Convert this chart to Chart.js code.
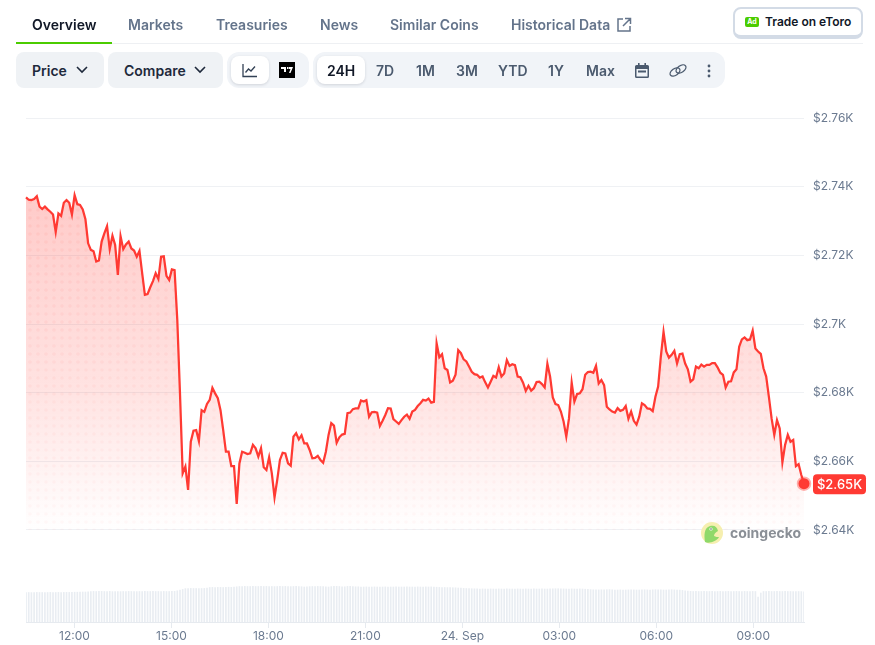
<!DOCTYPE html>
<html>
<head>
<meta charset="utf-8">
<script src="https://cdn.jsdelivr.net/npm/chart.js@4/dist/chart.umd.min.js"></script>
<style>
  html, body { margin: 0; background: #fff; }
  body { width: 875px; height: 645px; position: relative; overflow: hidden; font-family: Inter, sans-serif; }
  canvas { position: absolute; left: 0; top: 0; }
  .t { position: absolute; white-space: nowrap; line-height: 20px; font-size: 14px; font-weight: 600; color: #64748b; }
  .box { position: absolute; border-radius: 8px; background: #eff2f5; }
  .white { position: absolute; background: #fff; border-radius: 8px; box-shadow: 0 1px 3px rgba(16,24,40,.14); }
  .dark { color: #111827; }
  .mid { color: #4b5a6e; }
  svg { position: absolute; }
</style>
</head>
<body>
<canvas id="grafica" width="875" height="645"></canvas>

<!-- tabs -->
<div class="t dark" style="left:32px;top:15px">Overview</div>
<div class="t" style="left:128px;top:15px">Markets</div>
<div class="t" style="left:216px;top:15px">Treasuries</div>
<div class="t" style="left:320px;top:15px">News</div>
<div class="t" style="left:390px;top:15px">Similar Coins</div>
<div class="t" style="left:511px;top:15px">Historical Data</div>
<svg style="left:616px;top:17px" width="16" height="16" viewBox="0 0 16 16" fill="none" stroke="#64748b" stroke-width="1.5"><path d="M7 2H2v12h12V9M9 1.5h5.5V7M14.5 1.5L7 9"/></svg>
<div style="position:absolute;left:16px;top:43px;width:847px;height:1px;background:#eef0f3"></div>
<div style="position:absolute;left:16px;top:42px;width:96px;height:2px;background:#4bcc00"></div>

<!-- eToro -->
<div style="position:absolute;left:733px;top:7px;width:126px;height:26px;border:2px solid #d3dbe6;border-bottom-width:4px;border-radius:8px;background:#fff"></div>
<div style="position:absolute;left:745px;top:17px;width:14px;height:10px;border-radius:2px;background:#4bcc00;color:#fff;font-size:7px;font-weight:700;line-height:10px;text-align:center">Ad</div>
<div class="t" style="left:765px;top:12px;font-size:12px;color:#111827">Trade on eToro</div>

<!-- toolbar -->
<div class="box" style="left:16px;top:52px;width:88px;height:36px"></div>
<div class="t dark" style="left:32px;top:61px;color:#1e293b">Price</div>
<svg style="left:75px;top:65px" width="14" height="10" viewBox="0 0 14 10" fill="none" stroke="#1e293b" stroke-width="1.6"><path d="M2 2l5 5 5-5"/></svg>
<div class="box" style="left:108px;top:52px;width:115px;height:36px"></div>
<div class="t dark" style="left:124px;top:61px;color:#1e293b">Compare</div>
<svg style="left:193px;top:65px" width="14" height="10" viewBox="0 0 14 10" fill="none" stroke="#1e293b" stroke-width="1.6"><path d="M2 2l5 5 5-5"/></svg>

<div class="box" style="left:227px;top:52px;width:82px;height:36px;border-radius:12px;background:#f1f4f8"></div>
<div class="white" style="left:231px;top:56px;width:38px;height:28px"></div>
<svg style="left:242px;top:63px" width="16" height="15" viewBox="0 0 16 15" fill="none" stroke="#334155" stroke-width="1.3"><path d="M1 1v12.5h14M3.5 9.5l3-3.5 2.5 2 4-4.5"/></svg>
<div style="position:absolute;left:279px;top:62px;width:16px;height:16px;background:#000"></div>
<svg style="left:279px;top:62px" width="16" height="16" viewBox="0 0 16 16" fill="#fff"><path d="M2 5h5v5H5V7H2zM8 5h1.5v2H8zM10 5h4l-2.5 6H10l1.5-4H10z"/></svg>

<div class="box" style="left:313px;top:52px;width:412px;height:36px;border-radius:12px;background:#f1f4f8"></div>
<div class="white" style="left:317px;top:56px;width:48px;height:28px"></div>
<div class="t dark" style="left:327px;top:61px">24H</div>
<div class="t mid" style="left:376px;top:61px">7D</div>
<div class="t mid" style="left:416px;top:61px">1M</div>
<div class="t mid" style="left:456px;top:61px">3M</div>
<div class="t mid" style="left:498px;top:61px">YTD</div>
<div class="t mid" style="left:548px;top:61px">1Y</div>
<div class="t mid" style="left:586px;top:61px">Max</div>
<svg style="left:635px;top:63px" width="14" height="15" viewBox="0 0 14 15"><path fill="#4b5a6e" d="M3 0h1.6v2h4.8V0H11v2h1.5A1.5 1.5 0 0 1 14 3.500v10a1.500 1.500 0 0 1-1.500 1.500h-11A1.500 1.500 0 0 1 0 13.500v-10A1.500 1.500 0 0 1 1.500 2H3zM1.500 6v7.500h11V6z"/><rect fill="#4b5a6e" x="3" y="7.500" width="8" height="2"/></svg>
<svg style="left:669px;top:63px" width="18" height="15" viewBox="0 0 18 15" fill="none" stroke="#4b5a6e" stroke-width="1.3"><ellipse cx="6" cy="9" rx="5.500" ry="3.300" transform="rotate(-35 6 9)"/><ellipse cx="12" cy="6" rx="5.500" ry="3.300" transform="rotate(-35 12 6)"/></svg>
<svg style="left:707px;top:64px" width="4" height="14" viewBox="0 0 4 14" fill="#4b5a6e"><circle cx="2" cy="2" r="1.400"/><circle cx="2" cy="7" r="1.400"/><circle cx="2" cy="12" r="1.400"/></svg>

<!-- watermark -->
<svg style="left:701px;top:522px" width="22" height="22" viewBox="0 0 22 22"><circle cx="11" cy="11" r="11" fill="#f6efb0"/><path d="M4 20c-1-7-1-14 5-16 5-1 7 1 8 5-3 2-4 3-4 5 2 1 3 1 5 1-2 4-10 7-14 5z" fill="#8fd96a"/><circle cx="10" cy="7" r="1.600" fill="#fff"/><circle cx="10" cy="7" r=".8" fill="#555"/></svg>
<div class="t" style="left:730px;top:523px;font-size:14px;font-weight:700;color:#8a8f96">coingecko</div>

<script>
// one sample every ~5 minutes, starting 10:30
const stepMinutes = 5.015;

const prices = [
  2736.9, 2736.2, 2736.1, 2736.4, 2737.2, 2734.2, 2733.5, 2734.2, 2733.4, 2732.7, 2731.9, 2726.8,
  2732.2, 2731.5, 2735.3, 2736.1, 2735.3, 2731.9, 2737.5, 2734.9, 2734.7, 2733.4, 2730.5, 2723.5,
  2721.6, 2721.2, 2718.2, 2718.5, 2724.0, 2726.4, 2728.5, 2721.8, 2725.7, 2723.0, 2714.3, 2725.6,
  2721.8, 2723.2, 2724.0, 2722.0, 2721.4, 2719.6, 2721.3, 2714.8, 2708.5, 2708.7, 2710.7, 2712.5,
  2714.8, 2713.1, 2719.6, 2719.7, 2714.0, 2712.8, 2715.9, 2715.7, 2701.2, 2679.8, 2656.5, 2658.5,
  2651.7, 2665.7, 2668.9, 2669.1, 2665.9, 2674.9, 2674.4, 2676.7, 2677.9, 2681.4, 2679.8, 2678.4,
  2674.9, 2669.1, 2662.8, 2662.8, 2658.6, 2658.6, 2647.6, 2659.4, 2662.8, 2662.5, 2662.1, 2662.3,
  2664.8, 2663.8, 2661.4, 2663.8, 2658.3, 2657.5, 2661.2, 2656.5, 2649.5, 2654.6, 2660.4, 2662.5,
  2662.3, 2659.4, 2658.7, 2667.2, 2668.2, 2666.4, 2667.6, 2665.2, 2665.2, 2663.3, 2660.9, 2661.0,
  2661.6, 2660.4, 2659.6, 2662.8, 2667.7, 2671.1, 2670.4, 2665.4, 2667.0, 2667.8, 2668.0, 2674.0,
  2674.2, 2675.2, 2675.4, 2675.4, 2677.7, 2677.4, 2677.8, 2673.0, 2674.3, 2674.4, 2674.2, 2670.3,
  2671.8, 2673.5, 2675.5, 2675.4, 2672.3, 2671.6, 2670.9, 2672.0, 2673.0, 2673.6, 2672.4, 2674.5,
  2675.0, 2676.1, 2676.9, 2677.9, 2677.7, 2678.3, 2677.1, 2677.3, 2694.4, 2690.3, 2691.2, 2687.1,
  2686.6, 2683.0, 2683.5, 2685.2, 2692.4, 2691.5, 2689.7, 2689.1, 2687.6, 2686.1, 2685.4, 2685.2,
  2684.4, 2684.7, 2683.0, 2681.5, 2683.2, 2684.9, 2684.4, 2687.4, 2684.7, 2685.6, 2689.5, 2687.8,
  2688.3, 2688.0, 2684.7, 2684.5, 2682.9, 2680.5, 2682.0, 2680.6, 2681.3, 2683.1, 2683.2, 2682.5,
  2681.5, 2688.4, 2684.7, 2678.6, 2676.7, 2676.4, 2674.5, 2671.6, 2667.2, 2672.5, 2682.9, 2677.4,
  2679.6, 2679.8, 2681.0, 2685.2, 2686.0, 2686.1, 2685.8, 2687.8, 2682.7, 2683.7, 2682.2, 2675.9,
  2675.1, 2674.5, 2674.2, 2675.5, 2674.7, 2675.0, 2676.1, 2672.4, 2674.5, 2671.8, 2670.7, 2673.0,
  2676.9, 2676.4, 2675.4, 2675.3, 2674.6, 2678.8, 2681.8, 2690.5, 2697.7, 2692.0, 2690.2, 2691.0,
  2692.2, 2688.5, 2691.2, 2691.4, 2688.5, 2686.8, 2683.2, 2683.9, 2687.6, 2687.1, 2688.2, 2687.6,
  2688.1, 2688.1, 2688.6, 2688.6, 2687.4, 2685.8, 2685.2, 2681.5, 2683.2, 2683.3, 2685.9, 2686.8,
  2693.4, 2695.5, 2696.1, 2695.3, 2695.5, 2698.1, 2692.9, 2692.0, 2691.3, 2687.1, 2684.7, 2678.8,
  2672.5, 2667.7, 2672.0, 2669.6, 2659.7, 2664.8, 2667.7, 2665.7, 2666.2, 2658.6, 2659.2, 2656.0,
  2653.5
];

// volume has no scale in the picture, relative heights only
const volumes = [
  29.5, 29.5, 29.4, 29.5, 29.6, 29.5, 29.5, 29.4, 29.5, 29.6, 29.5, 29.5,
  29.6, 29.5, 29.6, 29.7, 29.6, 29.7, 29.8, 29.8, 29.9, 30.0, 30.0, 30.2,
  30.5, 30.6, 30.5, 30.6, 30.6, 30.5, 30.5, 30.6, 30.4, 30.5, 30.5, 30.4,
  30.5, 30.5, 30.6, 30.5, 30.5, 30.4, 30.5, 30.5, 30.6, 30.5, 30.5, 30.6,
  30.5, 30.5, 30.4, 30.6, 30.5, 30.5, 30.6, 30.7, 31.2, 31.8, 32.6, 33.4,
  33.5, 33.6, 33.5, 33.5, 33.4, 33.5, 33.6, 34.0, 34.5, 34.6, 34.5, 34.6,
  34.6, 34.5, 34.7, 34.8, 34.7, 35.0, 35.2, 35.5, 35.5, 35.6, 35.5, 35.5,
  35.6, 35.5, 35.5, 35.6, 35.5, 35.6, 35.5, 35.5, 35.4, 35.5, 35.6, 35.5,
  35.6, 35.5, 35.4, 35.5, 35.6, 35.5, 35.3, 35.0, 35.2, 35.4, 35.5, 35.5,
  35.6, 35.5, 35.4, 35.2, 35.0, 35.4, 35.6, 35.7, 35.5, 35.2, 35.2, 35.6,
  35.7, 35.5, 35.2, 35.2, 35.0, 35.0, 35.1, 35.0, 35.0, 35.1, 35.0, 35.0,
  35.0, 35.1, 35.0, 35.0, 35.0, 35.1, 35.0, 35.0, 35.0, 35.1, 35.0, 35.0,
  35.0, 35.1, 35.0, 35.0, 35.1, 35.0, 35.1, 35.0, 34.8, 34.6, 34.5, 34.5,
  34.4, 34.5, 34.3, 34.2, 34.0, 33.8, 33.6, 33.5, 33.5, 33.3, 33.2, 33.2,
  33.0, 33.1, 33.0, 33.0, 33.1, 33.0, 33.0, 33.1, 33.0, 33.0, 33.1, 33.0,
  33.0, 33.0, 33.1, 33.0, 33.0, 33.1, 33.0, 33.0, 33.1, 33.0, 33.0, 33.1,
  33.0, 33.0, 33.1, 33.2, 33.3, 33.3, 33.2, 33.1, 33.0, 33.0, 33.1, 33.0,
  33.0, 33.1, 33.0, 32.8, 32.6, 32.4, 32.2, 32.2, 32.1, 32.2, 32.2, 32.3,
  32.4, 32.2, 32.0, 32.0, 32.1, 32.0, 32.0, 32.1, 32.2, 32.1, 32.0, 32.0,
  32.1, 32.2, 32.1, 32.0, 32.2, 32.3, 32.2, 32.1, 32.0, 32.0, 32.2, 32.3,
  32.1, 32.0, 31.9, 31.6, 31.2, 30.9, 30.7, 30.5, 30.6, 30.5, 30.5, 30.6,
  30.5, 30.5, 30.6, 30.5, 30.5, 30.6, 30.5, 30.5, 30.6, 30.5, 30.5, 30.6,
  30.5, 30.5, 30.6, 30.5, 30.5, 30.6, 30.5, 25.0, 29.0, 30.5, 30.5, 30.6,
  30.5, 30.5, 30.6, 30.5, 30.5, 30.6, 30.5, 30.5, 30.4, 30.5, 30.5, 30.4,
  30.2
];

const priceTicks = [2640, 2660, 2680, 2700, 2720, 2740, 2760];
const priceTickLabels = ["$2.64K", "$2.66K", "$2.68K", "$2.7K", "$2.72K", "$2.74K", "$2.76K"];
const timeTicks = [90, 270, 450, 630, 810, 990, 1170, 1350];
const timeTickLabels = ["12:00", "15:00", "18:00", "21:00", "24. Sep", "03:00", "06:00", "09:00"];
const lastLabel = "$2.65K";

const rojo = "#ff3a33";
const textoEje = "#6b7a90";
const gridColor = "#eff1f4";

const xyPrices = prices.map((p, i) => ({ x: i * stepMinutes, y: p }));
const xyVolumes = volumes.map((v, i) => ({ x: i * stepMinutes, y: v }));

function areaGradient(context) {
  const chart = context.chart;
  if (!chart.chartArea) return "transparent";
  const y = chart.scales.y;
  const g = chart.ctx.createLinearGradient(0, y.getPixelForValue(2740), 0, y.getPixelForValue(2640));
  g.addColorStop(0, "rgba(255,58,51,0.27)");
  g.addColorStop(0.6, "rgba(255,58,51,0.14)");
  g.addColorStop(0.8, "rgba(255,58,51,0.07)");
  g.addColorStop(1, "rgba(255,58,51,0)");
  return g;
}

// dotted texture, fades out the same way as the area
function dotPattern(context) {
  const chart = context.chart;
  if (!chart.chartArea) return "transparent";
  const y = chart.scales.y;
  const y0 = y.getPixelForValue(2740), y1 = y.getPixelForValue(2640);
  const off = document.createElement("canvas");
  off.width = chart.width;
  off.height = chart.height;
  const c = off.getContext("2d");
  for (let py = 530; py > y0 - 20; py -= 8) {
    const a = Math.min(1, Math.max(0, (y1 - py) / (y1 - y0)));
    c.fillStyle = `rgba(255,58,51,${0.03 + 0.04 * a})`;
    for (let px = 30; px < chart.chartArea.right; px += 8) {
      c.beginPath();
      c.arc(px, py, 1.8, 0, Math.PI * 2);
      c.fill();
    }
  }
  return chart.ctx.createPattern(off, "no-repeat");
}

// red tag with the last price, right of the plot
const lastPriceTag = {
  id: "lastPriceTag",
  afterDraw(chart) {
    const ctx = chart.ctx;
    const yPix = chart.scales.y.getPixelForValue(prices[prices.length - 1]);
    const left = chart.chartArea.right + 9;
    ctx.save();
    ctx.fillStyle = rojo;
    ctx.beginPath();
    ctx.roundRect(left, yPix - 9.5, 53, 20, 4);
    ctx.fill();
    ctx.fillStyle = "#fff";
    ctx.font = "500 13px Inter";
    ctx.textAlign = "center";
    ctx.textBaseline = "middle";
    ctx.fillText(lastLabel, left + 26.5, yPix + 1);
    ctx.restore();
  },
};

new Chart(document.getElementById("grafica"), {
  data: {
    datasets: [
      {
        type: "line",
        label: "Price",
        data: xyPrices,
        yAxisID: "y",
        borderColor: rojo,
        borderWidth: 2.25,
        tension: 0,
        fill: { value: 2640 },
        backgroundColor: areaGradient,
        clip: false,
        order: 1,
        pointRadius: (c) => (c.dataIndex === prices.length - 1 ? 5.5 : 0),
        pointBackgroundColor: rojo,
        pointBorderColor: "rgba(255,58,51,0.4)",
        pointBorderWidth: 3.5,
      },
      {
        type: "line",
        label: "dots",
        data: xyPrices,
        yAxisID: "y",
        borderWidth: 0,
        pointRadius: 0,
        tension: 0,
        fill: { value: 2640 },
        backgroundColor: dotPattern,
        order: 2,
      },
      {
        type: "bar",
        label: "Volume",
        data: xyVolumes,
        yAxisID: "y1",
        backgroundColor: "#e9edf2",
        barThickness: 1,
        order: 3,
      },
    ],
  },
  options: {
    responsive: false,
    animation: false,
    layout: { padding: { left: 26, top: 100 } },
    plugins: { legend: { display: false }, tooltip: { enabled: false } },
    scales: {
      x: {
        type: "linear",
        offset: false,
        min: 0,
        max: 1444.3,
        afterBuildTicks: (s) => { s.ticks = timeTicks.map((v) => ({ value: v })); },
        afterFit: (s) => { s.height = 23; },
        border: { color: "#e6eaef" },
        grid: { offset: false, drawOnChartArea: false, color: "#e6eaef", tickLength: 6 },
        ticks: {
          color: textoEje,
          font: { family: "Inter", size: 12 },
          maxRotation: 0,
          padding: 1,
          callback: (v) => timeTickLabels[timeTicks.indexOf(v)],
        },
      },
      y: {
        position: "right",
        min: 2613.2,
        max: 2765.25,
        afterBuildTicks: (s) => { s.ticks = priceTicks.map((v) => ({ value: v })); },
        afterFit: (s) => { s.width = 71; },
        border: { display: false },
        grid: { color: gridColor, drawTicks: false },
        ticks: {
          color: textoEje,
          font: { family: "Inter", size: 12 },
          padding: 9,
          callback: (v) => priceTickLabels[priceTicks.indexOf(v)],
        },
      },
      y1: { display: false, min: 0, max: 522 },
    },
  },
  plugins: [lastPriceTag],
});
</script>
</body>
</html>
